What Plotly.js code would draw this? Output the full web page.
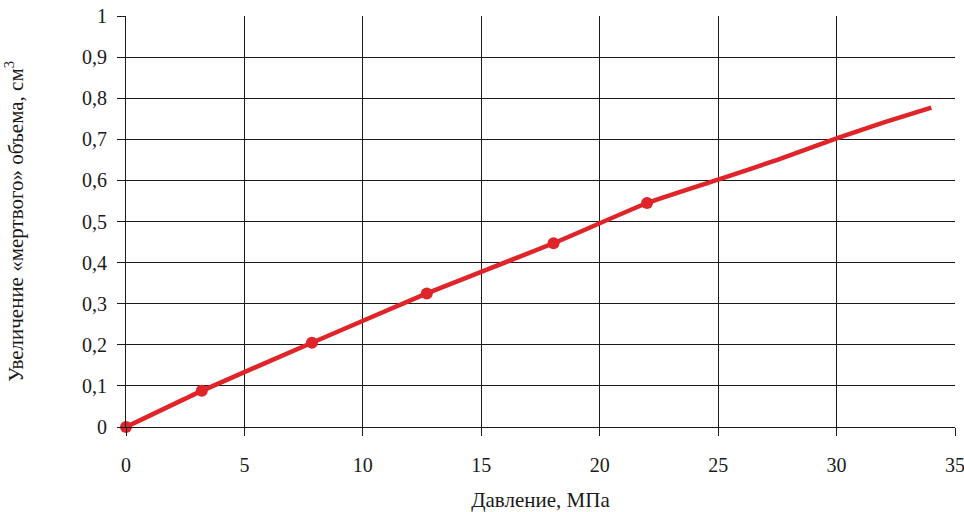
<!DOCTYPE html>
<html>
<head>
<meta charset="utf-8">
<script src="https://cdn.plot.ly/plotly-3.0.1.min.js"></script>
<style>html,body{margin:0;padding:0;background:#fff;}#chart{width:964px;height:512px;}</style>
</head>
<body>
<div id="chart"></div>
<script>
// Measured points (markers)
const pointX = [0, 3.2, 7.85, 12.7, 18.05, 22.0];
const pointY = [0, 0.088, 0.205, 0.325, 0.447, 0.545];
// Curve (line), continuing past the measured points
const curveX = [0, 3.2, 7.85, 12.7, 18.05, 22.0, 25, 27.5, 30, 32, 34];
const curveY = [0, 0.088, 0.205, 0.325, 0.447, 0.545, 0.602, 0.650, 0.702, 0.741, 0.777];

const xTitle = 'Давление, МПа';
const yTitle = 'Увеличение «мертвого» объема, см<sup>3</sup>';

const red = '#df2529';
const gridCol = '#1a1a1a';
const fontFam = 'Liberation Serif, Times New Roman, serif';

const traces = [
  {x: curveX, y: curveY, mode: 'lines', type: 'scatter', cliponaxis: false,
   line: {color: red, width: 4.5, shape: 'spline', smoothing: 0.4}, hoverinfo: 'skip'},
  {x: pointX, y: pointY, mode: 'markers', type: 'scatter', cliponaxis: false,
   marker: {color: red, size: 12}}
];

const layout = {
  width: 964, height: 512,
  margin: {l: 125.5, r: 8.5, t: 16, b: 85},
  paper_bgcolor: '#fff', plot_bgcolor: '#fff',
  showlegend: false,
  separators: ', ',
  font: {family: fontFam, size: 20, color: '#1a1a1a'},
  xaxis: {
    range: [0, 35], dtick: 5, tick0: 0,
    showgrid: true, gridcolor: gridCol, gridwidth: 1,
    zeroline: false, showline: true, linecolor: gridCol, linewidth: 1,
    ticks: 'outside', ticklen: 8, tickcolor: gridCol, tickwidth: 1,
    ticklabelstandoff: 12, ticklabeloverflow: 'allow',
    tickfont: {family: fontFam, size: 20, color: '#1a1a1a'},
    title: {text: xTitle, standoff: 17, font: {family: fontFam, size: 21, color: '#1a1a1a'}}
  },
  yaxis: {
    range: [0, 1], dtick: 0.1, tick0: 0,
    showgrid: true, gridcolor: gridCol, gridwidth: 1,
    zeroline: false, showline: true, linecolor: gridCol, linewidth: 1,
    ticks: 'outside', ticklen: 8, tickcolor: gridCol, tickwidth: 1,
    ticklabelstandoff: 6, ticklabeloverflow: 'allow',
    tickfont: {family: fontFam, size: 20, color: '#1a1a1a'},
    title: {text: yTitle, standoff: 52, font: {family: fontFam, size: 21, color: '#1a1a1a'}}
  }
};

Plotly.newPlot('chart', traces, layout, {displayModeBar: false, staticPlot: true});
</script>
</body>
</html>
